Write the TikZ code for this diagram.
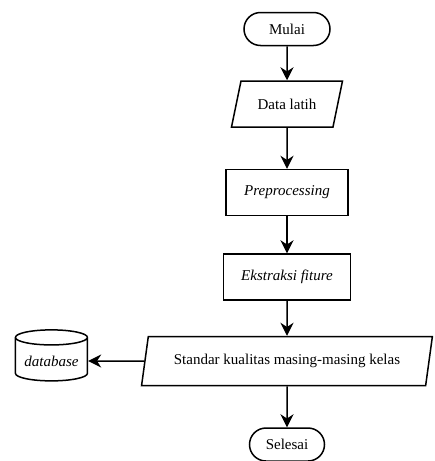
\documentclass[tikz,border=0pt]{standalone}
\usepackage{fontspec}
\setmainfont{Liberation Serif}
\usetikzlibrary{arrows.meta,positioning,shapes.geometric,shapes.misc}

\begin{document}
\begin{tikzpicture}[
    x=1pt, y=1pt,
    font=\fontsize{15}{18}\selectfont,
    node distance=34pt,
    box/.style={draw=black, line width=1.5pt, align=center, inner sep=3pt},
    terminal/.style={box, rounded rectangle, minimum height=33pt},
    io/.style={box, trapezium, trapezium left angle=68, trapezium right angle=112, trapezium stretches=true, minimum height=46pt},
    process/.style={box, rectangle, minimum height=46pt},
    storage/.style={box, cylinder, shape border rotate=90, aspect=0.25, minimum width=72pt, minimum height=51pt},
    flow/.style={-{Stealth[length=13pt, width=13pt]}, line width=1.5pt, draw=black}
  ]
    \useasboundingbox (0,0) rectangle (435,-461);

    \node[terminal, minimum width=92pt] (mulai) at (287,-29) {Mulai};
    \node[io, minimum width=111pt, below=34pt of mulai] (datalatih) {Data latih};
    \node[process, minimum width=122pt, below=41pt of datalatih] (preproc) {\textit{Preprocessing}};
    \node[process, minimum width=127pt, below=37pt of preproc] (ekstraksi) {\textit{Ekstraksi fiture}};
    \node[io, trapezium left angle=74, trapezium right angle=106, minimum width=291pt, minimum height=49pt, below=35pt of ekstraksi] (standar) {Standar kualitas masing-masing kelas};
    \node[storage, left=56pt of standar] (database) {\textit{database}};
    \node[terminal, minimum width=81pt, below=41pt of standar] (selesai) {Selesai};

    \draw[flow] (mulai) -- (datalatih);
    \draw[flow] (datalatih) -- (preproc);
    \draw[flow] (preproc) -- (ekstraksi);
    \draw[flow] (ekstraksi) -- (standar);
    \draw[flow] (standar) -- (database);
    \draw[flow] (standar) -- (selesai);

  \end{tikzpicture}
\end{document}
